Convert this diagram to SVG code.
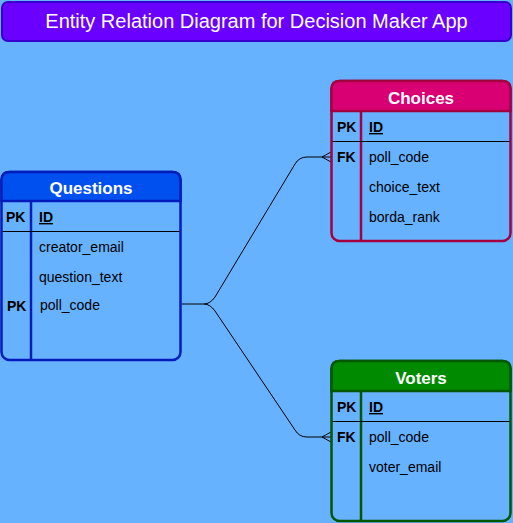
<svg xmlns="http://www.w3.org/2000/svg" width="513" height="523" viewBox="0 0 513 523">
<style>
  text { font-family: "Liberation Sans", Arial, Helvetica, sans-serif; }
  .title { font-size: 20px; fill: #ffffff; text-anchor: middle; }
  .hdr { font-size: 17px; font-weight: bold; fill: #ffffff; text-anchor: middle; }
  .key { font-size: 14px; font-weight: bold; fill: #000000; }
  .pkname { font-size: 14px; font-weight: bold; fill: #000000; text-decoration: underline; }
  .fld { font-size: 14px; fill: #000000; }
  .body { fill: #66B2FF; stroke-width: 2.5; }
  .sep { stroke: #000000; stroke-width: 1; }
  .conn { fill: none; stroke: #000000; stroke-width: 1; }
</style>
<rect x="0" y="0" width="513" height="523" fill="#66B2FF"/>

<g id="title">
  <rect x="2" y="2" width="509" height="39" rx="6" ry="6" fill="#6A00FF" stroke="#3700CC" stroke-width="2"/>
  <text class="title" x="256.5" y="28">Entity Relation Diagram for Decision Maker App</text>
</g>

<g id="connectors">
  <path class="conn" d="M182,304 L204,304 Q210,304 215,297 L295,164 Q299,157 307,157 L331,157"/>
  <path class="conn" d="M204,304 Q210,304 215,311 L295,430 Q299,437 307,437 L331,437"/>
  <path class="conn" d="M322,157 L331,152 M322,157 L331,162"/>
  <path class="conn" d="M322,437 L331,432 M322,437 L331,442"/>
</g>

<g id="questions">
  <rect class="body" x="1.5" y="172" width="179" height="188" rx="8" ry="8" stroke="#001DBC"/>
  <path d="M1.5,201 L1.5,180 Q1.5,172 9.5,172 L172.5,172 Q180.5,172 180.5,180 L180.5,201 Z" fill="#0050EF" stroke="#001DBC" stroke-width="2.5"/>
  <line x1="31" y1="201" x2="31" y2="360" stroke="#001DBC" stroke-width="2.5"/>
  <line class="sep" x1="2.5" y1="231.5" x2="179.5" y2="231.5"/>
  <text class="hdr" x="91" y="194">Questions</text>
  <text class="key" x="6" y="222">PK</text>
  <text class="pkname" x="39" y="222">ID</text>
  <text class="fld" x="39" y="252">creator_email</text>
  <text class="fld" x="39" y="282">question_text</text>
  <text class="key" x="7" y="311">PK</text>
  <text class="fld" x="40" y="310">poll_code</text>
</g>

<g id="choices">
  <rect class="body" x="331.5" y="81" width="179" height="160" rx="8" ry="8" stroke="#A50040"/>
  <path d="M331.5,111 L331.5,89 Q331.5,81 339.5,81 L502.5,81 Q510.5,81 510.5,89 L510.5,111 Z" fill="#D80073" stroke="#A50040" stroke-width="2.5"/>
  <line x1="361" y1="111" x2="361" y2="241" stroke="#A50040" stroke-width="2.5"/>
  <line class="sep" x1="332.5" y1="141.5" x2="509.5" y2="141.5"/>
  <text class="hdr" x="421" y="104">Choices</text>
  <text class="key" x="337" y="132">PK</text>
  <text class="pkname" x="369" y="132">ID</text>
  <text class="key" x="337" y="162">FK</text>
  <text class="fld" x="369" y="162">poll_code</text>
  <text class="fld" x="369" y="192">choice_text</text>
  <text class="fld" x="369" y="222">borda_rank</text>
</g>

<g id="voters">
  <rect class="body" x="331.5" y="361" width="179" height="160" rx="8" ry="8" stroke="#005700"/>
  <path d="M331.5,391 L331.5,369 Q331.5,361 339.5,361 L502.5,361 Q510.5,361 510.5,369 L510.5,391 Z" fill="#008A00" stroke="#005700" stroke-width="2.5"/>
  <line x1="361" y1="391" x2="361" y2="521" stroke="#005700" stroke-width="2.5"/>
  <line class="sep" x1="332.5" y1="421.5" x2="509.5" y2="421.5"/>
  <text class="hdr" x="421" y="384">Voters</text>
  <text class="key" x="337" y="412">PK</text>
  <text class="pkname" x="369" y="412">ID</text>
  <text class="key" x="337" y="442">FK</text>
  <text class="fld" x="369" y="442">poll_code</text>
  <text class="fld" x="369" y="472">voter_email</text>
</g>
</svg>
